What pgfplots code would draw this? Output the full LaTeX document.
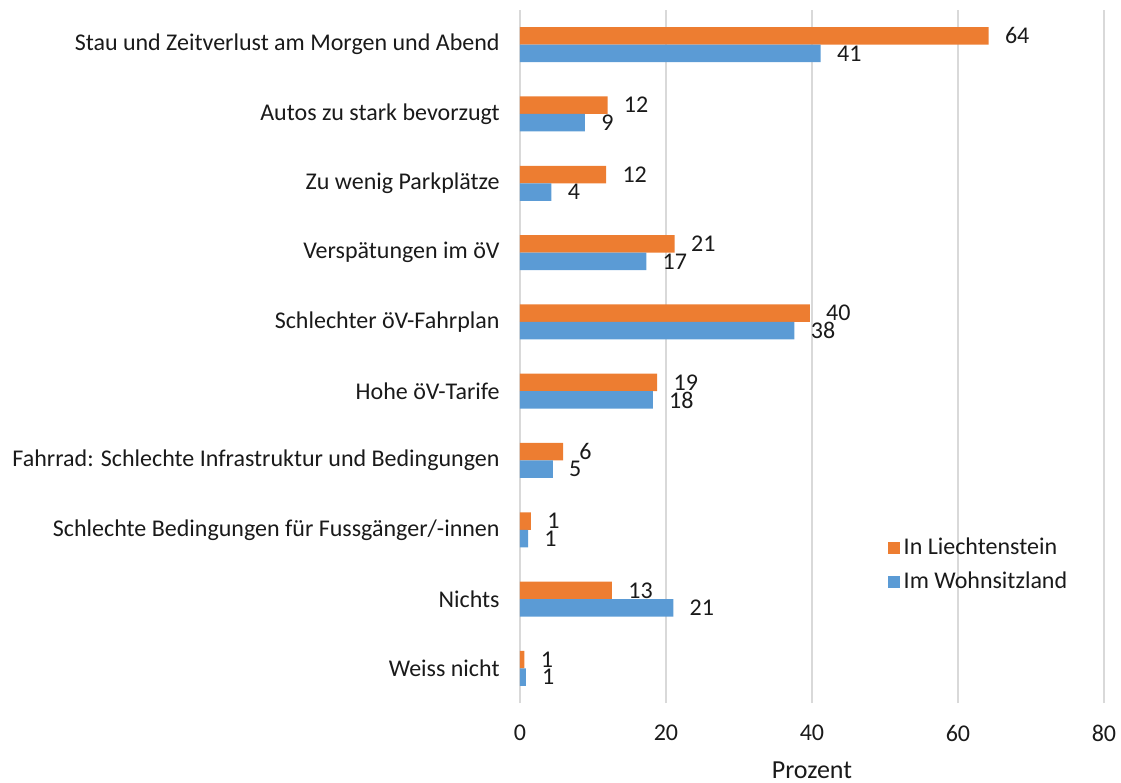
\documentclass[border=0pt]{standalone}
\usepackage{fontspec}
\setmainfont{Carlito}
\usepackage{pgfplots}
\pgfplotsset{compat=1.18}
\definecolor{orng}{HTML}{ED7D31}
\definecolor{blu}{HTML}{5B9BD5}
\definecolor{gridc}{HTML}{D9D9D9}
\definecolor{txt}{HTML}{1A1A1A}
\pgfplotsset{mylegend/.style={legend image code/.code={\fill[##1] (0pt,-3pt) rectangle (6pt,3pt);}}}
\begin{document}
\fontsize{12pt}{14pt}\selectfont
\begin{tikzpicture}
\begin{axis}[
  scale only axis, width=292pt, height=346.5pt,
  xmin=0, xmax=80, ymin=-0.5, ymax=9.5,
  xbar, bar width=8.75pt,
  xtick={0,20,40,60,80},
  ytick={0,1,2,3,4,5,6,7,8,9},
  yticklabels={Weiss nicht, Nichts, Schlechte Bedingungen für Fussgänger/-innen, Fahrrad: Schlechte Infrastruktur und Bedingungen, Hohe öV-Tarife, Schlechter öV-Fahrplan, Verspätungen im öV, Zu wenig Parkplätze, Autos zu stark bevorzugt, Stau und Zeitverlust am Morgen und Abend},
  axis line style={draw=none},
  xmajorgrids, major grid style={gridc, line width=1pt},
  major tick length=0pt,
  tick label style={font=\fontsize{12pt}{14pt}\selectfont, text=txt},
  /pgf/number format/assume math mode=true,
  xticklabel style={yshift=-7pt},
  yticklabel style={xshift=-6pt},
  xlabel={Prozent},
  xlabel style={at={(axis description cs:0.5,0)}, anchor=center, yshift=-33.5pt, font=\fontsize{13pt}{15pt}\selectfont, text=txt},
  nodes near coords, point meta=explicit symbolic,
  every node near coord/.append style={anchor=west, xshift=4pt, font=\fontsize{12pt}{14pt}\selectfont, text=txt},
  legend style={draw=none, fill=none, at={(axis cs:49.5,1.49)}, anchor=west, legend cell align=left, font=\fontsize{12pt}{14pt}\selectfont, text=txt, row sep=2.5pt},
  clip=false,
]
\addplot[fill=orng, draw=none, bar shift=4.375pt, mylegend] coordinates {
 (0.6,0) [1] (12.6,1) [13] (1.5,2) [1] (5.9,3) [6] (18.8,4) [19] (39.7,5) [40] (21.2,6) [21] (11.8,7) [12] (12.0,8) [12] (64.2,9) [64]};
\addplot[fill=blu, draw=none, bar shift=-4.375pt, mylegend] coordinates {
 (0.8,0) [1] (21.0,1) [21] (1.1,2) [1] (4.5,3) [5] (18.2,4) [18] (37.6,5) [38] (17.3,6) [17] (4.3,7) [4] (8.9,8) [9] (41.2,9) [41]};
\legend{In Liechtenstein, Im Wohnsitzland}
\end{axis}
\pgfresetboundingbox
\path[use as bounding box] (-260pt,-40pt) rectangle (300.5pt,351.5pt);
\end{tikzpicture}
\end{document}
